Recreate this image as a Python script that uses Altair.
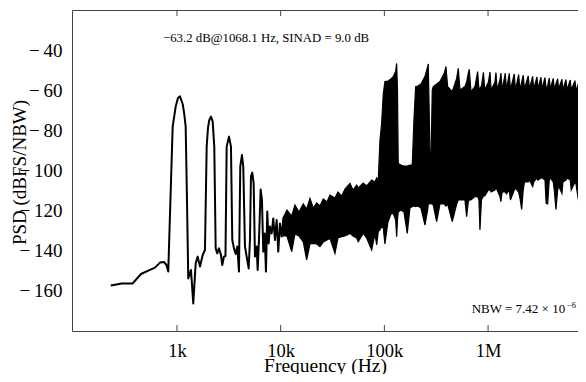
import altair as alt
import pandas as pd

# ---- low-frequency part of the spectrum (drawn as a line) ----
line_freq = [230, 293, 374, 450, 529, 614, 686, 749, 792, 824,
             909, 972, 1022, 1068, 1135, 1176, 1213, 1249,
             1285, 1365, 1436, 1515, 1584, 1667, 1770, 1862, 1934, 1991,
             2049, 2128, 2210, 2290, 2362, 2447, 2541, 2657, 2734, 2840,
             2936, 3015, 3173, 3317, 3415, 3546, 3681, 3815, 3962, 4078,
             4235, 4358, 4526, 4700, 4914, 5057, 5170, 5322, 5490, 5652,
             5869, 6000, 6176, 6413, 6601, 6794, 7009, 7214, 7426, 7660,
             7884, 8187, 8483, 8810, 9149, 9480, 9845, 10220, 10590, 11000,
             11420, 12100]
line_psd = [-157.8, -156.7, -156.7, -152, -150.3, -148.8, -146.3, -146, -147.5, -150.8,
            -78.3, -68.3, -64, -63.2, -67, -72, -78.3, -115,
            -154.2, -150, -166.7, -146.7, -143.3, -148.3, -142.5, -140, -88.3, -79,
            -75, -73.3, -75.8, -88.3, -139.2, -141.7, -139.2, -142.5, -147.5, -143.3,
            -143, -88.3, -83.3, -88.3, -135, -139.2, -142, -138.3, -150.8, -98.3,
            -92.5, -98.3, -138.3, -143.3, -149.2, -135, -103.3, -101.3, -106.7, -143.3,
            -138.3, -150, -135, -109.7, -115, -140.8, -131.7, -150.8, -120.8, -136.7,
            -128.3, -131.7, -124.2, -135, -125, -140.8, -126.7, -133.3, -125, -131.7,
            -125.8, -135]

# ---- dense high-frequency part (upper / lower envelope of the trace) ----
area_freq = [10520, 11500, 12770, 13740, 15010, 16520, 17810, 19170, 20630, 22240,
             23930, 25750, 27960, 29880, 33390, 35690, 38750, 41710, 46600, 49820,
             54070, 56020, 62580, 67510, 75420, 81180, 84300, 87350, 90710, 94190,
             97590, 101300, 108300, 115800, 121800, 128500, 131400, 133800, 136100, 144600,
             154500, 166300, 176500, 185800, 192900, 200300, 210900, 225300, 246400, 261600,
             265100, 270400, 275300, 282700, 289700, 296200, 319400, 343800, 378100, 392600,
             407700, 451700, 498100, 516100, 535900, 598700, 621800, 644400, 658800, 684200,
             747700, 793800, 817000, 835400, 863800, 902800, 929300, 1009000, 1043000, 1071000,
             1165000, 1192000, 1224000, 1302000, 1331000, 1368000, 1466000, 1505000, 1601000, 1644000,
             1789000, 1837000, 1973000, 2031000, 2109000, 2185000, 2244000, 2442000, 2508000, 2692000,
             2759000, 2962000, 3028000, 3237000, 3310000, 3538000, 3634000, 3756000, 3892000, 3980000,
             4254000, 4350000, 4517000, 4691000, 4796000, 5159000, 5276000, 5639000, 5766000, 6204000,
             6343000, 6887000, 7041000, 7577000, 7748000, 8354000, 8541000, 8793000]
area_upper = [-124, -120, -123, -117.5, -121, -117, -119.5, -114.2, -119, -116.5,
              -118, -114.5, -116, -112.5, -114, -111, -113, -109.5, -106.7, -110,
              -107.5, -109, -106.5, -108, -105, -106, -104, -105, -85, -76.7,
              -62, -55.8, -55.5, -54.5, -53.3, -50.8, -46.7, -60, -96.7, -97.5,
              -98, -98, -97.5, -97.5, -75, -58.3, -58, -57, -53.3, -48.3,
              -47, -70, -91.7, -91.7, -60, -58.3, -57, -55.8, -51.7, -48.3,
              -58.3, -60.8, -54.2, -49.2, -60, -58.3, -56, -51.7, -49.7, -60.8,
              -58.3, -50.8, -60, -59, -58, -51.2, -60, -56, -51, -60,
              -56, -51.3, -60, -55, -51.5, -60, -51.6, -60, -51.7, -60,
              -52, -60, -52.3, -60, -56, -52.6, -59.5, -53, -59.5, -53.2,
              -59.5, -53.4, -59.5, -53.6, -59.5, -53.8, -59.5, -58, -54, -59.5,
              -54.2, -59.5, -57, -54.4, -59.5, -54.6, -60, -54.8, -60, -55,
              -60, -55.3, -60.5, -55.6, -61, -56, -61, -57]
area_lower = [-133, -133, -140.8, -132, -133, -136, -145, -137, -136.7, -137,
              -138.3, -136, -135, -134.2, -141.7, -134, -133.3, -133, -131.7, -133,
              -134, -135.8, -131.7, -134, -140, -132, -137.5, -130.8, -130, -128.3,
              -129, -137, -126, -122, -121.7, -125, -133.3, -125, -121, -120,
              -121, -131.7, -119, -118.3, -118, -118.3, -118, -119, -127.5, -120,
              -117, -117, -116.7, -117, -117, -117.5, -125.8, -117, -117, -118,
              -117, -125.8, -117, -115, -115, -115, -123.3, -116, -115, -115,
              -113.3, -113.3, -115, -130, -115, -113, -113, -110, -110, -111,
              -110, -109, -110, -113.3, -115.8, -111, -111, -112, -110, -115,
              -110, -109, -111, -114, -119.7, -110, -106, -106, -105, -108.3,
              -106, -104, -105, -104, -104, -105, -116.7, -117, -105, -104,
              -106, -110, -119.7, -110, -108, -111.7, -106, -105, -104, -105,
              -110, -106, -107, -117.5, -106, -105, -105, -105]

# ---- axes ----
x_tick_values = [1000, 10000, 100000, 1000000]
x_tick_labels = ["1k", "10k", "100k", "1M"]
y_tick_values = [-160, -140, -120, -100, -80, -60, -40]
x_domain = [97.2, 7.37e6]
y_domain = [-180.5, -20]

# ---- annotations ----
ann_text = ["\u221263.2 dB@1068.1 Hz, SINAD  = 9.0 dB", "NBW = 7.42 \u00d7 10", "\u22126"]
ann_freq = [733, 694700, 5766000]
ann_db = [-35.75, -171.65, -169.0]
ann_size = [12.8, 13, 8.5]

FONT = "Liberation Serif"

label_expr = "''"
for v, l in zip(reversed(x_tick_values), reversed(x_tick_labels)):
    label_expr = f"datum.value == {v} ? '{l}' : ({label_expr})"
y_label_expr = "datum.value < 0 ? '\u2212\u2009' + format(-datum.value, 'd') : format(datum.value, 'd')"

df_line = pd.DataFrame({"freq": line_freq, "psd": line_psd})
df_area = pd.DataFrame({"freq": area_freq, "upper": area_upper, "lower": area_lower})
df_ticks = pd.DataFrame({"freq": x_tick_values})
df_ann = pd.DataFrame({"freq": ann_freq, "db": ann_db, "text": ann_text, "size": ann_size})

xs = alt.Scale(type="log", domain=x_domain, nice=False)
ys = alt.Scale(domain=y_domain, nice=False, zero=False)

area = alt.Chart(df_area).mark_area(
    color="black", stroke="black", strokeWidth=1.2, clip=True
).encode(
    x=alt.X("freq:Q", scale=xs, axis=alt.Axis(
        orient="bottom",
        values=x_tick_values, labelExpr=label_expr, title="Frequency (Hz)",
        ticks=False, tickSize=0, grid=False, labelPadding=25,
        labelBaseline="alphabetic", titleY=40, titleBaseline="alphabetic",
        labelFontSize=18.5, titleFontSize=19.5, labelFlush=False)),
    y=alt.Y("upper:Q", scale=ys, axis=alt.Axis(
        orient="left", labelExpr=y_label_expr,
        values=y_tick_values, title="PSD (dBFS/NBW)", ticks=False, tickSize=0,
        grid=False, labelPadding=10, titleX=-46.5, titleY=162,
        titleBaseline="alphabetic", titleAlign="center", titleAngle=270)),
    y2="lower:Q",
)

line = alt.Chart(df_line).mark_line(
    color="black", strokeWidth=2, strokeJoin="round", clip=True
).encode(
    x=alt.X("freq:Q", scale=xs, axis=None),
    y=alt.Y("psd:Q", scale=ys, axis=None),
)

ticks_bottom = alt.Chart(df_ticks).mark_rule(color="#444", strokeWidth=1).encode(
    x=alt.X("freq:Q", scale=xs, axis=None),
    y=alt.value(321), y2=alt.value(315),
)

ticks_top = alt.Chart(df_ticks).mark_rule(color="#444", strokeWidth=1).encode(
    x=alt.X("freq:Q", scale=xs, axis=alt.Axis(
        orient="top", labels=False, ticks=False, title=None, grid=False)),
    y=alt.value(0), y2=alt.value(6),
)

ann = alt.Chart(df_ann).mark_text(
    align="left", baseline="alphabetic", font=FONT, color="black"
).encode(
    x=alt.X("freq:Q", scale=xs, axis=None),
    y=alt.Y("db:Q", scale=ys, axis=None),
    text="text:N",
    size=alt.Size("size:Q", scale=None, legend=None),
)

chart = alt.layer(area, line, ticks_bottom, ticks_top, ann).resolve_axis(
    x="independent", y="independent"
).properties(
    width=506, height=321,
    padding={"left": 64, "top": 2, "right": 0, "bottom": 43},
    autosize=alt.AutoSizeParams(type="none"),
).configure_view(stroke=None).configure_axis(
    domainColor="#444", domainWidth=1,
    labelFont=FONT, labelFontSize=19, labelColor="black",
    titleFont=FONT, titleFontSize=19, titleFontWeight="normal", titleColor="black",
)

chart.save("out.html", embed_options={"renderer": "svg", "actions": False})
